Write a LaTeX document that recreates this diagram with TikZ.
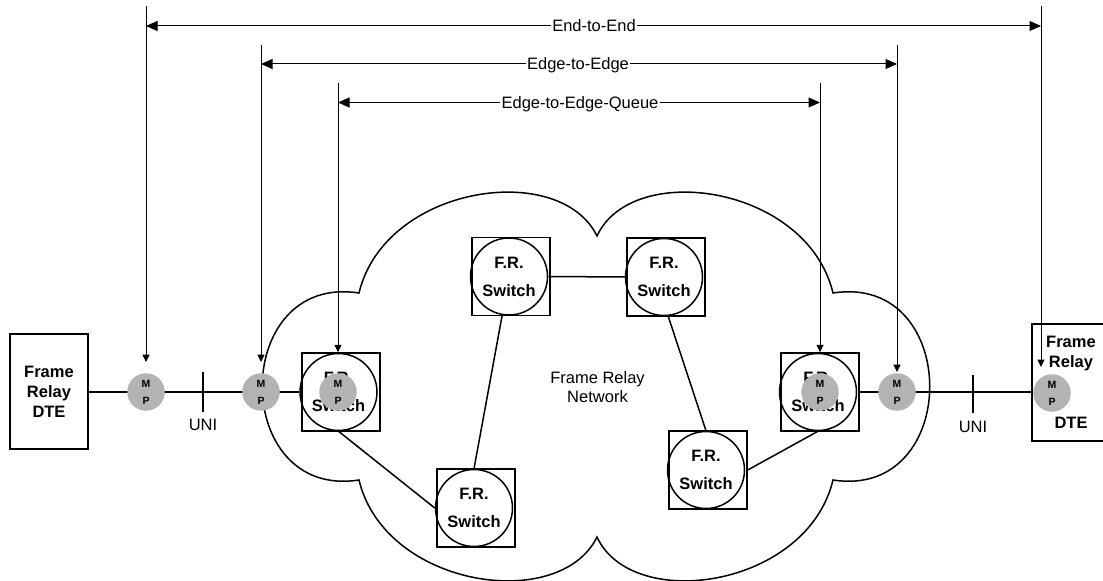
\documentclass[tikz,border=0pt]{standalone}
\usepackage{fontspec}
\setmainfont{Liberation Sans}
\usetikzlibrary{arrows.meta}
\definecolor{mpgray}{RGB}{179,179,179}
\begin{document}
\begin{tikzpicture}[x=1bp,y=-1bp,
  link/.style={line width=1.5bp},
  frbox/.style={draw, line width=1.5bp, minimum width=78bp, minimum height=78bp, inner sep=0pt},
  frcirc/.style={draw, circle, line width=1.5bp, minimum size=77bp, inner sep=0pt, align=center,
                 font=\bfseries\fontsize{16.5bp}{28bp}\selectfont},
  mp/.style={circle, fill=mpgray, minimum size=37.5bp, inner sep=0pt, align=center,
             font=\bfseries\fontsize{10.5bp}{17bp}\selectfont},
  dte/.style={draw, line width=1.5bp, minimum width=78bp, inner sep=0pt},
  lbl/.style={inner xsep=1bp, inner ysep=0pt, text height=11.8bp, text depth=0pt,
              font=\fontsize{16.5bp}{20bp}\selectfont},
  brv/.style={line width=1bp, -{Triangle[length=7.5bp,width=7bp]}},
  brh/.style={line width=1bp, -{Triangle[length=11.5bp,width=10bp]}}
]
\useasboundingbox (0,0) rectangle (1103,581);
\clip (0,0) rectangle (1103,581);

% cloud
\draw[link] (359,293) .. controls (230,273) and (230,500) .. (359,480)
  .. controls (385,588) and (560,613) .. (597,537)
  .. controls (632,613) and (807,588) .. (833,480)
  .. controls (962,500) and (962,273) .. (833,293)
  .. controls (807,185) and (632,160) .. (597,236)
  .. controls (560,160) and (385,185) .. (359,293) -- cycle;

\node[font=\fontsize{16.5bp}{19bp}\selectfont, align=center, inner sep=0pt] (net) at (597.5,387.5) {Frame Relay\\Network};

% DTEs
\node[dte, minimum height=115bp, align=center, font=\bfseries\fontsize{16.5bp}{20bp}\selectfont] (dteL) at (49,391.5) {Frame\\Relay\\DTE};
\node[dte, minimum height=117bp] (dteR) at (1071,382.5) {};
\node[align=center, inner sep=0pt, font=\bfseries\fontsize{16.5bp}{20bp}\selectfont] (dteRt) at (1071,353.5) {Frame\\Relay};
\node[lbl, font=\bfseries\fontsize{16.5bp}{20bp}\selectfont] (dteRb) at (1071,423) {DTE};

% switches
\node[frbox] (bL) at (341,392) {};
\node[frcirc] (cL) at (338.5,392) {F.R.\\Switch};
\node[frbox] (b1) at (511,276.5) {};
\node[frcirc] (c1) at (509,276.5) {F.R.\\Switch};
\node[frbox] (b2) at (666,277) {};
\node[frcirc] (c2) at (664,277) {F.R.\\Switch};
\node[frbox] (bBL) at (476,508) {};
\node[frcirc] (cBL) at (474,508) {F.R.\\Switch};
\node[frbox] (bBR) at (708,470) {};
\node[frcirc] (cBR) at (706,470) {F.R.\\Switch};
\node[frbox] (bR) at (820,392) {};
\node[frcirc] (cR) at (818,392) {F.R.\\Switch};

% links
\draw[link] (cL.west -| dteL.east) -- (cL.west);
\draw[link] (bR.east) -- (bR.east -| dteR.west);
\draw[link] (c1.east) -- (c2.west);
\draw[link] (c1.260) -- (cBL.north);
\draw[link] (cL.south) -- (cBL.west);
\draw[link] (c2.276) -- (cBR.north);
\draw[link] (bBR.east) -- (cR.south);

% UNI
\draw[link] (203,372) -- (203,412);
\node[lbl] (uni1) at (203,424.5) {UNI};
\draw[link] (973,375) -- (973,413);
\node[lbl] (uni2) at (973,427) {UNI};

% measurement points
\node[mp] (m1) at (146,392) {M\\P};
\node[mp] (m2) at (261,392) {M\\P};
\node[mp] (m3) at (338,392) {M\\P};
\node[mp] (m4) at (820,392) {M\\P};
\node[mp] (m5) at (897,392) {M\\P};
\node[mp] (m6) at (1052,393) {M\\P};

% brackets
\coordinate (eL) at (146,6);  \coordinate (eR) at (1041,6);
\coordinate (gL) at (261,45); \coordinate (gR) at (897,45);
\coordinate (qL) at (338,83); \coordinate (qR) at (820,83);

\draw[brv, shorten >=11bp] (eL) -- (eL |- m1.north);
\draw[brv, shorten >=11bp] (gL) -- (gL |- m2.north);
\draw[brv] (qL) -- (qL |- bL.north);
\draw[brv] (qR) -- (qR |- bR.north);
\draw[brv, shorten >=1bp] (gR) -- (gR |- m5.north);
\draw[brv, shorten >=7bp] (eR) -- (eR |- m6.north);

\node[lbl] (tEnd) at (594,26) {End-to-End};
\node[lbl] (tEdge) at (578,64) {Edge-to-Edge};
\node[lbl] (tQueue) at (580,102.5) {Edge-to-Edge-Queue};
\draw[brh] (tEnd.west) -- (tEnd.west -| eL);
\draw[brh] (tEnd.east) -- (tEnd.east -| eR);
\draw[brh] (tEdge.west) -- (tEdge.west -| gL);
\draw[brh] (tEdge.east) -- (tEdge.east -| gR);
\draw[brh] (tQueue.west) -- (tQueue.west -| qL);
\draw[brh] (tQueue.east) -- (tQueue.east -| qR);
\end{tikzpicture}
\end{document}
